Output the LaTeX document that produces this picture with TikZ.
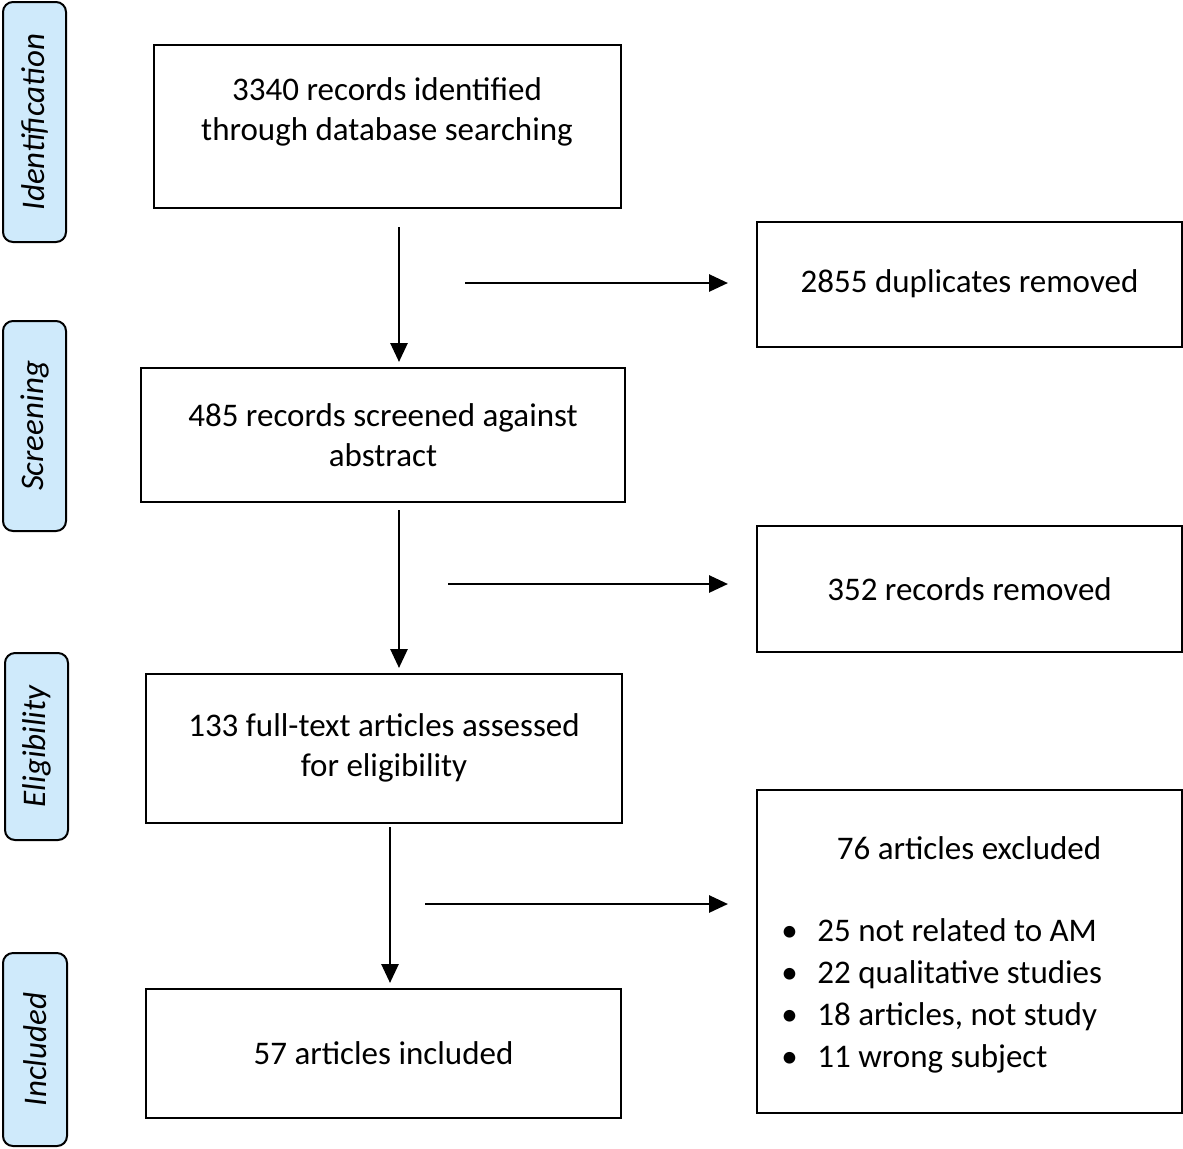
\documentclass[tikz,border=0pt]{standalone}
\usepackage{fontspec}
\setmainfont{Carlito}
\usepackage{xcolor}
\usepackage{tikz}
\usetikzlibrary{arrows.meta}

\definecolor{stagefill}{RGB}{207,234,251}

\begin{document}
\begin{tikzpicture}[x=0.5pt, y=-0.5pt,
    font=\fontsize{16.5}{20}\selectfont,
    stage/.style={rounded corners=5pt, draw, line width=1pt, fill=stagefill,
      rotate=90, minimum height=31.5pt, inner sep=0pt, font=\fontsize{16.5}{20}\selectfont\itshape},
    box/.style={rectangle, draw, line width=1pt, align=center, inner sep=0pt},
    flow/.style={line width=1.4pt, -{Triangle[length=9.5pt,width=8.5pt]}}
    ]
    \useasboundingbox (0,0) rectangle (1183,1148);

    % stages
    \node[stage, minimum width=120pt] (ident) at (34.5,122) {Identification};
    \node[stage, minimum width=105pt] (screen) at (34.5,426) {Screening};
    \node[stage, minimum width=93.5pt] (elig) at (36.5,746.5) {Eligibility};
    \node[stage, minimum width=96.5pt, minimum height=32pt] (incl) at (35,1049.5) {Included};

    % main column
    \node[box, minimum width=233.5pt, minimum height=81.5pt] (records) at (387.5,126.5) {};
    \node[align=center, inner sep=0pt] (recordstext) at (387,112) {3340 records identified\\through database searching};
    \node[box, minimum width=242pt, minimum height=67pt] (screened) at (383,435) {485 records screened against\\abstract};
    \node[box, minimum width=238pt, minimum height=74.5pt] (fulltext) at (384,748) {133 full-text articles assessed\\for eligibility};
    \node[box, minimum width=237.5pt, minimum height=64.5pt] (included) at (383.5,1053.5) {57 articles included};

    % right column
    \node[box, minimum width=212.5pt, minimum height=62.5pt] (duplicates) at (969.5,284) {2855 duplicates removed};
    \node[box, minimum width=212.5pt, minimum height=63pt] (removed) at (969.5,589) {352 records removed};
    \node[box, minimum width=212.5pt, minimum height=161.5pt] (excluded) at (969.5,951.5) {};
    \node[inner sep=0pt] (exctitle) at (969,848) {76 articles excluded};
    \node[anchor=west, align=left, inner sep=0pt, font=\fontsize{16.5}{21}\selectfont] (exclist) at (781,996)
      {\makebox[18pt][l]{\textbullet}25 not related to AM\\
       \makebox[18pt][l]{\textbullet}22 qualitative studies\\
       \makebox[18pt][l]{\textbullet}18 articles, not study\\
       \makebox[18pt][l]{\textbullet}11 wrong subject};

    % arrow ends
    \coordinate (a1) at (399,227);
    \coordinate (a2) at (399,362);
    \coordinate (b1) at (465,283);
    \coordinate (b2) at (728,283);
    \coordinate (c1) at (399,510);
    \coordinate (c2) at (399,668);
    \coordinate (d1) at (448,584);
    \coordinate (d2) at (728,584);
    \coordinate (e1) at (390,827);
    \coordinate (e2) at (390,983);
    \coordinate (f1) at (425,904);
    \coordinate (f2) at (728,904);

    \draw[flow] (a1) -- (a2);
    \draw[flow] (b1) -- (b2);
    \draw[flow] (c1) -- (c2);
    \draw[flow] (d1) -- (d2);
    \draw[flow] (e1) -- (e2);
    \draw[flow] (f1) -- (f2);
  \end{tikzpicture}
\end{document}
